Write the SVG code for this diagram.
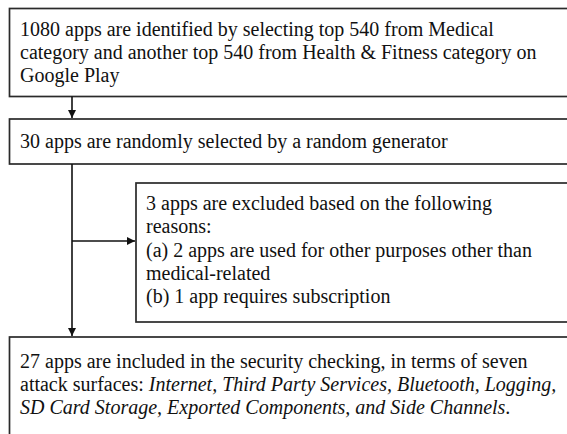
<svg xmlns="http://www.w3.org/2000/svg" width="567" height="434" viewBox="0 0 567 434">
  <defs>
    <marker id="arrow" viewBox="0 0 10 10" refX="10" refY="5" markerWidth="8" markerHeight="8" markerUnits="userSpaceOnUse" orient="auto">
      <path d="M0,0 L10,5 L0,10 Z" fill="#111"/>
    </marker>
    <style>
      .box { fill: #fff; stroke: #2a2a2a; stroke-width: 1.7; }
      .txt { font-family: "Liberation Serif", Tinos, "Times New Roman", serif; font-size: 20px; fill: #111; }
      .it { font-style: italic; }
      .conn { fill: none; stroke: #111; stroke-width: 1.6; marker-end: url(#arrow); }
    </style>
  </defs>

  <!-- process boxes (they run past the right edge of the page) -->
  <g id="identify">
    <rect class="box" x="9.5" y="8.5" width="600" height="88"/>
    <text class="txt" x="20" y="36">1080 apps are identified by selecting top 540 from Medical</text>
    <text class="txt" x="20" y="59">category and another top 540 from Health &amp; Fitness category on</text>
    <text class="txt" x="20" y="82">Google Play</text>
  </g>

  <g id="select">
    <rect class="box" x="9.5" y="119" width="600" height="45"/>
    <text class="txt" x="20" y="148">30 apps are randomly selected by a random generator</text>
  </g>

  <g id="exclude">
    <rect class="box" x="136" y="183" width="480" height="139"/>
    <text class="txt" x="146" y="210">3 apps are excluded based on the following</text>
    <text class="txt" x="146" y="233">reasons:</text>
    <text class="txt" x="146" y="257">(a) 2 apps are used for other purposes other than</text>
    <text class="txt" x="146" y="280">medical-related</text>
    <text class="txt" x="146" y="303">(b) 1 app requires subscription</text>
  </g>

  <g id="include">
    <rect class="box" x="9.5" y="337" width="600" height="120"/>
    <text class="txt" x="20" y="368">27 apps are included in the security checking, in terms of seven</text>
    <text class="txt" x="20" y="391">attack surfaces: <tspan class="it">Internet, Third Party Services, Bluetooth, Logging,</tspan></text>
    <text class="txt" x="20" y="414"><tspan class="it">SD Card Storage, Exported Components, and Side Channels</tspan>.</text>
  </g>

  <!-- connectors -->
  <g id="connectors">
    <line class="conn" x1="72" y1="96.5" x2="72" y2="118"/>
    <line class="conn" x1="72" y1="164" x2="72" y2="336"/>
    <line class="conn" x1="72" y1="241" x2="135" y2="241"/>
  </g>
</svg>
